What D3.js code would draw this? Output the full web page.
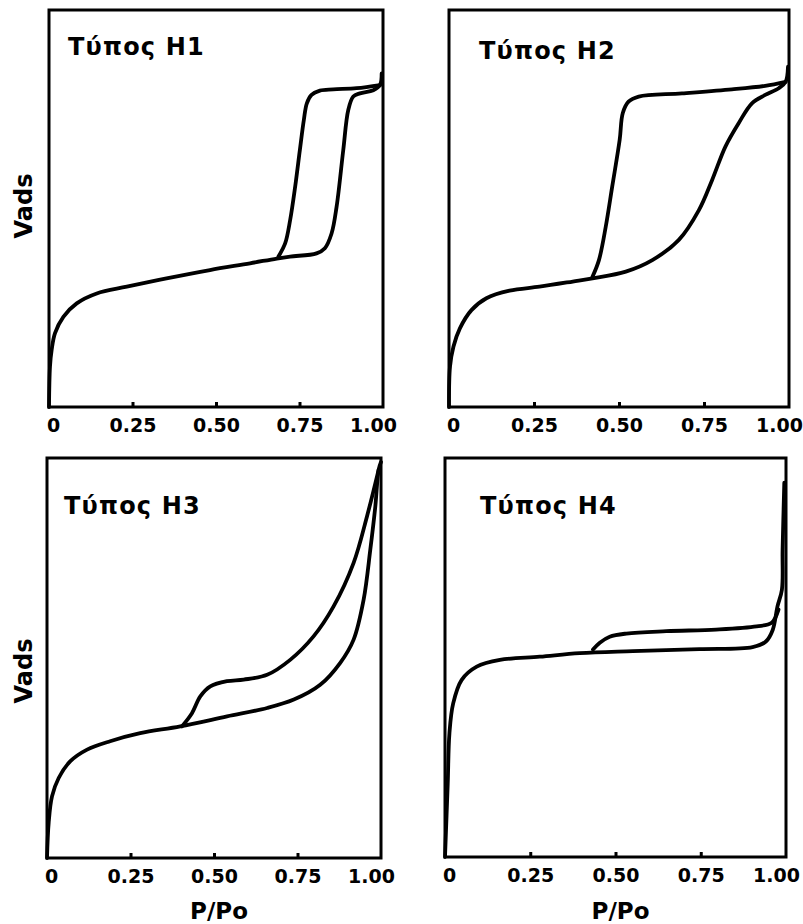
<!DOCTYPE html>
<html>
<head>
<meta charset="utf-8">
<script src="https://cdn.jsdelivr.net/npm/d3@7"></script>
<style>
  html, body { margin: 0; padding: 0; background: #fff; }
  svg { display: block; }
</style>
</head>
<body>
<svg id="chart" width="803" height="924"></svg>
<script>
// ---------- DATA ----------
const tickValues = [0, 0.25, 0.5, 0.75, 1.0];
const tickLabels = ["0", "0.25", "0.50", "0.75", "1.00"];
const panelTitles = ["Τύπος H1", "Τύπος H2", "Τύπος H3", "Τύπος H4"];
const yAxisLabel = "Vads";
const xAxisLabel = "P/Po";

// [P/Po, Vads (relative, 0-100 of frame height)]
const h1Adsorption = [
  [0, 0], [0.003, 10.2], [0.008, 14.4], [0.018, 18.6], [0.043, 22.7], [0.083, 26.1],
  [0.143, 28.6], [0.233, 30.3], [0.352, 32.4], [0.482, 34.5], [0.602, 36.2],
  [0.682, 37.4], [0.722, 37.9], [0.801, 38.7], [0.826, 40.0], [0.846, 43.7],
  [0.861, 50.4], [0.881, 64.7], [0.896, 74.8], [0.911, 78.2], [0.931, 79.0],
  [0.971, 79.8], [0.991, 81.1], [0.996, 84.0]
];
const h1Desorption = [
  [0.687, 37.9], [0.707, 41.2], [0.722, 47.1], [0.737, 55.5], [0.751, 64.7],
  [0.763, 72.3], [0.772, 76.5], [0.786, 78.6], [0.811, 79.7], [0.851, 80.0],
  [0.921, 80.3], [0.991, 81.1]
];
const h2Adsorption = [
  [0, 0], [0.003, 10.2], [0.013, 15.2], [0.032, 19.8], [0.066, 24.4], [0.110, 27.4],
  [0.178, 29.3], [0.266, 30.3], [0.364, 31.6], [0.422, 32.4], [0.520, 34.1],
  [0.598, 37.0], [0.676, 42.1], [0.735, 49.6], [0.774, 57.2], [0.813, 65.6],
  [0.852, 71.5], [0.891, 76.5], [0.930, 78.6], [0.970, 80.3], [0.990, 81.9],
  [0.997, 85.7]
];
const h2Desorption = [
  [0.422, 32.8], [0.441, 37.0], [0.461, 45.4], [0.480, 55.5], [0.502, 67.3],
  [0.511, 74.0], [0.528, 76.9], [0.558, 78.2], [0.685, 79.0], [0.832, 80.0],
  [0.930, 80.9], [0.990, 81.9]
];
const h3Adsorption = [
  [0, 0], [0.005, 8.8], [0.015, 15.4], [0.035, 20.0], [0.070, 24.2], [0.120, 27.1],
  [0.189, 29.2], [0.279, 31.2], [0.399, 32.9], [0.539, 35.4], [0.659, 37.5],
  [0.739, 39.6], [0.818, 43.3], [0.878, 48.8], [0.918, 54.6], [0.948, 64.6],
  [0.968, 77.1], [0.983, 87.9], [0.993, 97.1], [1.0, 99.0]
];
const h3Desorption = [
  [0.404, 32.9], [0.434, 36.2], [0.459, 40.4], [0.489, 42.9], [0.539, 44.2],
  [0.589, 44.6], [0.659, 45.8], [0.729, 49.6], [0.798, 55.4], [0.858, 62.9],
  [0.918, 73.8], [0.958, 85.4], [0.993, 97.1]
];
const h4Adsorption = [
  [0, 0], [0.008, 18.4], [0.013, 31.0], [0.024, 38.5], [0.049, 44.4], [0.093, 47.7],
  [0.161, 49.4], [0.278, 50.2], [0.395, 51.1], [0.551, 51.6], [0.746, 52.1],
  [0.902, 52.6], [0.941, 54.0], [0.961, 56.9], [0.975, 62.8], [0.988, 67.0],
  [0.990, 77.0], [0.995, 93.8]
];
const h4Desorption = [
  [0.434, 52.0], [0.454, 53.7], [0.483, 55.2], [0.532, 56.0], [0.649, 56.6],
  [0.795, 57.0], [0.914, 57.8], [0.958, 58.7], [0.978, 62.0]
];

const panelSeries = [
  [h1Adsorption, h1Desorption],
  [h2Adsorption, h2Desorption],
  [h3Adsorption, h3Desorption],
  [h4Adsorption, h4Desorption]
];

// ---------- LAYOUT ----------
const frames = [
  { x0: 49, x1: 383, y0: 10, y1: 407, tx: 19, ty: 45, showY: true, yLabelY: 206, showX: false },
  { x0: 449, x1: 789, y0: 10, y1: 407, tx: 30, ty: 49, showY: false, showX: false },
  { x0: 47, x1: 381, y0: 458, y1: 858, tx: 17, ty: 56, showY: true, yLabelY: 671, showX: true },
  { x0: 445, x1: 786, y0: 458, y1: 857, tx: 35, ty: 56, showY: false, showX: true }
];
const labelShift = [4, 0, 0, 0, -10];

const svg = d3.select("#chart");
const FONT = "'DejaVu Sans', 'Liberation Sans', Arial, sans-serif";

frames.forEach((f, i) => {
  const x = d3.scaleLinear().domain([0, 1]).range([f.x0, f.x1]);
  const y = d3.scaleLinear().domain([0, 100]).range([f.y1, f.y0]);
  const g = svg.append("g");

  // curves
  const line = d3.line()
    .x(d => x(d[0]))
    .y(d => y(d[1]))
    .curve(d3.curveCatmullRom.alpha(0.5));
  panelSeries[i].forEach(s => {
    g.append("path")
      .attr("d", line(s))
      .attr("fill", "none")
      .attr("stroke", "#000")
      .attr("stroke-width", 3.8)
      .attr("stroke-linejoin", "round")
      .attr("stroke-linecap", "round");
  });

  // x axis (inward ticks)
  const axis = d3.axisBottom(x)
    .tickValues(tickValues)
    .tickSize(-5)
    .tickPadding(12)
    .tickFormat((d, k) => tickLabels[k]);
  const ag = g.append("g")
    .attr("transform", `translate(0,${f.y1})`)
    .call(axis);
  ag.select(".domain").remove();
  ag.selectAll(".tick line")
    .attr("stroke", "#000")
    .attr("stroke-width", 3)
    .attr("opacity", d => (d === 0 || d === 1) ? 0 : 1);
  ag.selectAll(".tick text")
    .attr("fill", "#000")
    .attr("dx", (d, k) => labelShift[k])
    .style("font-family", FONT)
    .style("font-weight", "bold")
    .style("font-size", "19px");

  // frame
  g.append("rect")
    .attr("x", f.x0).attr("y", f.y0)
    .attr("width", f.x1 - f.x0).attr("height", f.y1 - f.y0)
    .attr("fill", "none")
    .attr("stroke", "#000")
    .attr("stroke-width", 3);

  // title
  g.append("text")
    .attr("x", f.x0 + f.tx)
    .attr("y", f.y0 + f.ty)
    .style("font-family", FONT)
    .style("font-weight", "bold")
    .style("font-size", "24px")
    .style("letter-spacing", "1.2px")
    .text(panelTitles[i]);

  if (f.showY) {
    g.append("text")
      .attr("transform", `translate(32,${f.yLabelY}) rotate(-90)`)
      .attr("text-anchor", "middle")
      .style("font-family", FONT)
      .style("font-weight", "bold")
      .style("font-size", "24px")
      .text(yAxisLabel);
  }
  if (f.showX) {
    g.append("text")
      .attr("x", (f.x0 + f.x1) / 2 + 5)
      .attr("y", 919)
      .attr("text-anchor", "middle")
      .style("font-family", FONT)
      .style("font-weight", "bold")
      .style("font-size", "23px")
      .text(xAxisLabel);
  }
});
</script>
</body>
</html>
